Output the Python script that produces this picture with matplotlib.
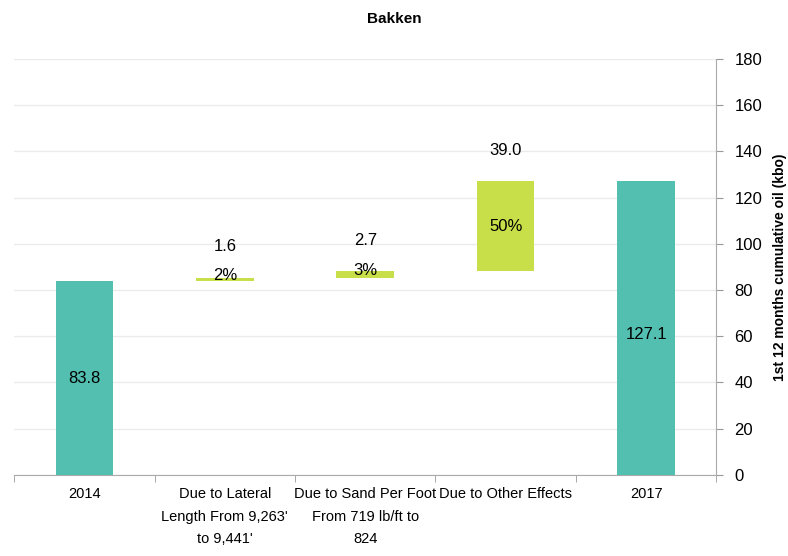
import numpy as np
import matplotlib.pyplot as plt

# Bakken waterfall: 2014 baseline, three drivers, 2017 total
categories = ["2014",
              "Due to Lateral\nLength From 9,263'\nto 9,441'",
              "Due to Sand Per Foot\nFrom 719 lb/ft to\n824",
              "Due to Other Effects",
              "2017"]
start_value = 83.8
changes = [1.6, 2.7, 39.0]
change_pct = ["2%", "3%", "50%"]
end_value = 127.1

y_ticks = [0, 20, 40, 60, 80, 100, 120, 140, 160, 180]

TEAL = "#52bfb0"
LIME = "#c8df4a"

plt.rcParams['font.family'] = ['Liberation Sans', 'DejaVu Sans']

fig = plt.figure(figsize=(7.88, 5.56), dpi=100)
ax = fig.add_axes([0.018, 0.146, 0.891, 0.748])

x = np.arange(len(categories))
width = 0.41

# totals
ax.bar(x[0], start_value, width, color=TEAL, zorder=3)
ax.bar(x[-1], end_value, width, color=TEAL, zorder=3)
ax.text(x[0], start_value / 2, f"{start_value:.1f}", ha="center", va="center", fontsize=12, zorder=4)
ax.text(x[-1], end_value / 2 - 3, f"{end_value:.1f}", ha="center", va="center", fontsize=12, zorder=4)

# floating increments
bottoms = start_value + np.concatenate([[0], np.cumsum(changes)[:-1]])
for i, (b, h, pct) in enumerate(zip(bottoms, changes, change_pct)):
    xi = x[i + 1]
    ax.bar(xi, h, width, bottom=b, color=LIME, zorder=3)
    ax.annotate(f"{h:.1f}", (xi, b + h), xytext=(0, 22), textcoords="offset points",
                ha="center", va="center", fontsize=12)
    off = 3 if h < 10 else 0
    ax.annotate(pct, (xi, b + h / 2), xytext=(0, off), textcoords="offset points",
                ha="center", va="center", fontsize=12, zorder=4)

ax.set_xlim(-0.5, len(categories) - 0.5)
ax.set_ylim(0, 180)

# y axis on the right
ax.yaxis.tick_right()
ax.yaxis.set_label_position("right")
ax.set_yticks(y_ticks)
ax.tick_params(axis="y", colors="#999999", labelcolor="black", labelsize=12, length=5, pad=8)
ax.set_ylabel("1st 12 months cumulative oil (kbo)", fontsize=10, fontweight="bold", labelpad=8)
ax.grid(axis="y", color="#ebebeb", linewidth=1, zorder=0)

# x axis: labels centred, tick marks between categories
ax.set_xticks(x)
ax.set_xticklabels(categories, fontsize=10.5, linespacing=1.75)
ax.tick_params(axis="x", length=0, pad=9)
ax.set_xticks(np.arange(-0.5, len(categories)), minor=True)
ax.tick_params(axis="x", which="minor", length=5, color="#999999")

for side in ["top", "left"]:
    ax.spines[side].set_visible(False)
for side in ["bottom", "right"]:
    ax.spines[side].set_color("#aaaaaa")

fig.text(0.5, 0.966, "Bakken", ha="center", va="center", fontsize=11, fontweight="bold")

fig.savefig("out.png", dpi=100)
